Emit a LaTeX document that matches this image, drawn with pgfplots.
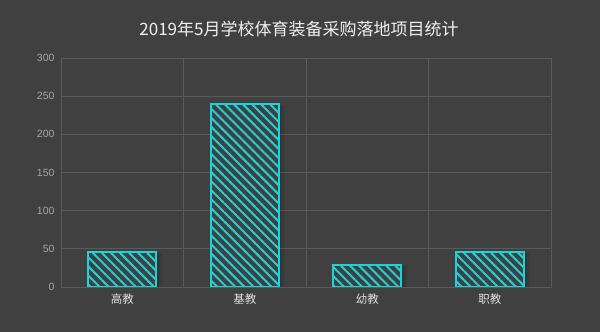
\documentclass[border=0pt]{standalone}
\usepackage{pgfplots}
\pgfplotsset{compat=1.18}
\usepackage{fontspec}
\setmainfont{Liberation Sans}
\newfontfamily\cjk{Noto Sans CJK SC}
\usetikzlibrary{patterns.meta}
\definecolor{bg}{HTML}{404040}
\definecolor{gridc}{HTML}{5A5A5A}
\definecolor{barc}{HTML}{1ED2DA}
\definecolor{ylab}{HTML}{A6A6A6}
\definecolor{xlab}{HTML}{E0E0E0}
\definecolor{titlec}{HTML}{F0F0F0}
\begin{document}
\begin{tikzpicture}
\fill[bg] (0,0) rectangle (600bp,332bp);
\node[text=titlec, font=\cjk\fontsize{17bp}{19bp}\selectfont] at (299bp,303bp) {2019年5月学校体育装备采购落地项目统计};
\begin{axis}[at={(61bp,45bp)}, anchor=south west, scale only axis,
  width=490bp, height=229bp,
  xmin=-0.5, xmax=3.5, ymin=0, ymax=300,
  ytick={0,50,...,300}, xtick={0,1,2,3}, xticklabels={高教,基教,幼教,职教},
  x tick label style={font=\cjk\fontsize{11.5bp}{13bp}\selectfont, text=xlab, yshift=-3bp},
  y tick label style={font=\fontsize{10.5bp}{12bp}\selectfont, text=ylab, xshift=-3bp},
  /pgf/number format/assume math mode=true,
  major tick length=0pt, minor tick length=0pt,
  ymajorgrids, minor xtick={0.5,1.5,2.5}, xminorgrids,
  grid style={gridc, line width=0.8bp},
  minor grid style={gridc, line width=0.8bp},
  axis line style={gridc, line width=0.8bp},
]
\addplot[ybar, bar width=70bp, bar shift=5bp, draw=none, fill=black, fill opacity=0.08] coordinates {(0,44) (1,238) (2,27) (3,44)};
\addplot[ybar, bar width=68bp, bar shift=3bp, draw=none, fill=black, fill opacity=0.10] coordinates {(0,45) (1,239) (2,28) (3,45)};
\addplot[ybar, bar width=68bp, bar shift=0pt, draw=barc, line width=2bp, fill=bg,
  postaction={pattern={Lines[angle=-45,distance=6.4bp,line width=2bp]}, pattern color=barc}]
  coordinates {(0,46) (1,240) (2,29) (3,46)};
\end{axis}
\end{tikzpicture}
\end{document}
